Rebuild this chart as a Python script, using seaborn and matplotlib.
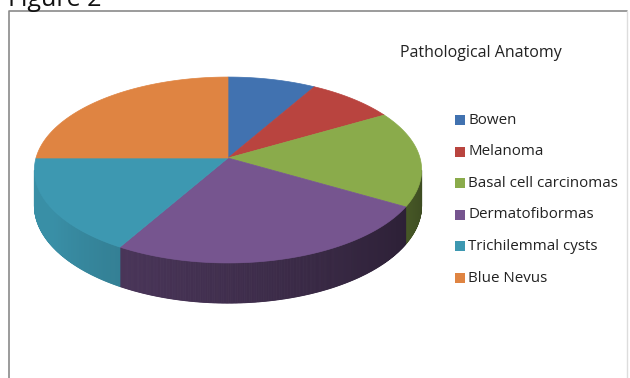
import numpy as np
import matplotlib
matplotlib.use("Agg")
import matplotlib.pyplot as plt
from matplotlib.patches import Polygon, Rectangle
import seaborn as sns

# data (number of cases)
categories = ["Bowen", "Melanoma", "Basal cell carcinomas", "Dermatofibormas",
              "Trichilemmal cysts", "Blue Nevus"]
cases = [1, 1, 2, 3, 2, 3]
slice_colors = ["#4172b0", "#b9443f", "#8aab4b", "#76558f", "#3d98b1", "#df8442"]
title = "Pathological Anatomy"
caption = "Figure 2"

# pie geometry (pixels)
CX, CY = 228, 158
RX, RY = 192, 91.4
K = 0.129       # perspective strength
DEPTH = 35
# how bright each slice's side wall is compared to its top
side_boost = [1.0, 1.0, 1.35, 1.0, 1.35, 1.0]


def proj(theta, z=0.0):
    # theta in degrees, clockwise from 12 o'clock; z=1 is the bottom rim
    t = np.radians(theta)
    X, Y = np.sin(t), np.cos(t)
    w = 1 + K * Y
    return CX + RX * X / w, CY - RY * Y / w + DEPTH * z / w


def shade(theta):
    return 0.37 + 0.0027 * (theta - 117)


sns.set_theme(style="white")
plt.rcParams["font.family"] = ["Open Sans", "DejaVu Sans"]
palette = sns.color_palette(slice_colors)

fig = plt.figure(figsize=(6.3, 3.78), dpi=100)
ax = fig.add_axes([0, 0, 1, 1])
ax.set_xlim(0, 630)
ax.set_ylim(378, 0)
ax.axis("off")

bounds = np.concatenate([[0], np.cumsum(cases) / np.sum(cases) * 360])
side_lo = np.degrees(np.arccos(-K))
side_hi = 360 - side_lo

# side wall, drawn as thin strips to get a gradient
for i, col in enumerate(palette):
    a0, a1 = max(bounds[i], side_lo), min(bounds[i + 1], side_hi)
    if a1 <= a0:
        continue
    th = np.linspace(a0, a1, int((a1 - a0) * 3) + 2)
    for t0, t1 in zip(th[:-1], th[1:]):
        pts = [proj(t0), proj(t1), proj(t1, 1), proj(t0, 1)]
        f = min(shade((t0 + t1) / 2) * side_boost[i], 0.94)
        c = np.array(col) * f
        ax.add_patch(Polygon(pts, closed=True, facecolor=c, edgecolor=c,
                             linewidth=0.6))

# top face
for i, col in enumerate(palette):
    th = np.linspace(bounds[i], bounds[i + 1], 120)
    pts = [(CX, CY)] + [proj(t) for t in th]
    ax.add_patch(Polygon(pts, closed=True, facecolor=col, edgecolor=col,
                         linewidth=0.5))

# title and legend
ax.text(481, 53, title, fontsize=11.5, ha="center", va="center", color="#222222")
for i, (lab, col) in enumerate(zip(categories, palette)):
    y = 120 + i * 31.6
    ax.add_patch(Rectangle((455, y - 5), 10, 10, facecolor=col, edgecolor="none"))
    ax.text(468, y, lab, fontsize=10.9, va="center", color="#222222")

# frame and caption
ax.plot([9, 9, 627], [378, 11, 11], color="#8a8a8a", linewidth=1.2)
ax.plot([627, 627], [11, 378], color="#dddddd", linewidth=1)
ax.text(8, 6, caption, fontsize=18, va="baseline", color="#111111")

fig.savefig("out.png", dpi=100)
